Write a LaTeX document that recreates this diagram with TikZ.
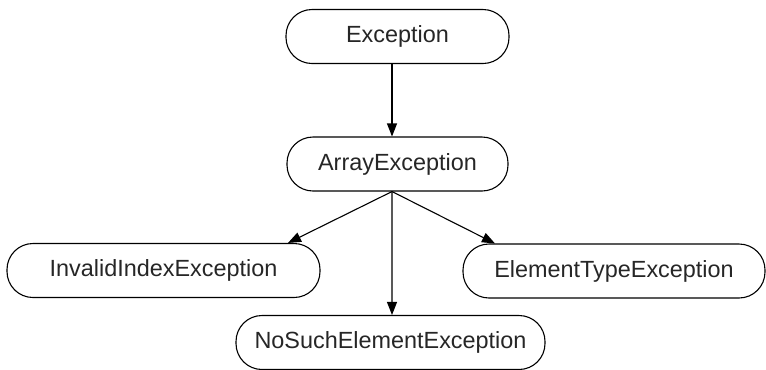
\documentclass[tikz,border=0pt]{standalone}
\usepackage{fontspec}
\setmainfont{Liberation Sans}
\usetikzlibrary{arrows.meta}
\begin{document}
\begin{tikzpicture}[x=1bp,y=-1bp,
  cls/.style={draw=black, line width=1.1bp, rounded corners=26bp, inner sep=0pt,
    minimum height=54bp, font=\fontsize{23.5}{28}\selectfont, text=black!85},
  edge/.style={draw=black, line width=1.1bp, -{Triangle[length=13bp,width=10bp]}}]
\useasboundingbox (0,0) rectangle (766,369);
\node[cls, minimum width=223bp] (ex) at (397.5,36.5) {Exception};
\node[cls, minimum width=221bp] (arr) at (397.5,164) {ArrayException};
\node[cls, minimum width=313bp] (inv) at (163.5,270.5) {InvalidIndexException};
\node[cls, minimum width=302bp] (elt) at (614,271) {ElementTypeException};
\node[cls, minimum width=309bp] (nse) at (390.5,342.5) {NoSuchElementException};
\draw[edge] ([xshift=-5.5bp]ex.south) -- ([xshift=-5.5bp]arr.north);
\draw[edge] ([xshift=-5.5bp]arr.south) -- ([xshift=124.5bp]inv.north);
\draw[edge] ([xshift=-5.5bp]arr.south) -- ([xshift=1.5bp]nse.north);
\draw[edge] ([xshift=-5.5bp]arr.south) -- ([xshift=-119bp]elt.north);
\end{tikzpicture}
\end{document}
